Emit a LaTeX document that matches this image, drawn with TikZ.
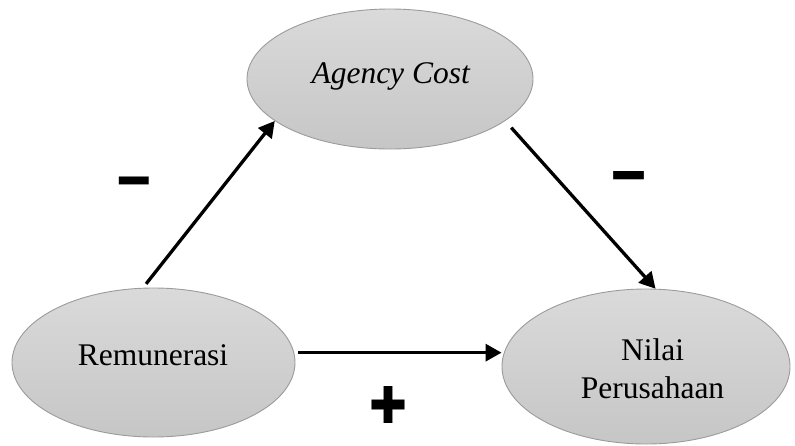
\documentclass[tikz,border=0pt]{standalone}
\usepackage{fontspec}
\setmainfont{Liberation Serif}
\newfontfamily\dejavu{DejaVu Sans}
\usetikzlibrary{shapes.geometric,arrows.meta}
\definecolor{ovaltop}{RGB}{218,218,218}
\definecolor{ovalbot}{RGB}{198,198,198}
\definecolor{ovalline}{RGB}{155,155,155}
\tikzset{
	oval/.style={ellipse, draw=ovalline, line width=0.9pt, top color=ovaltop, bottom color=ovalbot, inner sep=0pt},
	vartext/.style={font=\fontsize{31.5}{38}\selectfont, inner sep=0pt, align=center},
	arr/.style={line width=3.3pt, -{Triangle[length=16pt,width=17pt]}},
	sign/.style={inner sep=0pt}
}

\begin{document}
\begin{tikzpicture}[x=1pt,y=-1pt]
		%%%%% START %%%%%
		\useasboundingbox (0,0) rectangle (795,445);
		
		\node[oval, minimum width=286pt, minimum height=140pt] (agc) at (390,79) {};
		\node[oval, minimum width=283pt, minimum height=149pt] (rem) at (153.5,362.5) {};
		\node[oval, minimum width=288pt, minimum height=155pt] (nil) at (646,366.5) {};
		
		\node[vartext, anchor=base] (agc-t) at (391,83) {\textit{Agency Cost}};
		\node[vartext, anchor=base] (rem-t) at (153,365) {Remunerasi};
		\node[vartext] (nil-t) at (652.5,368.5) {Nilai\\Perusahaan};
		
		\draw[arr, shorten <=5pt] (rem.98) -- (agc.200);
		\draw[arr, shorten <=9pt] (agc.-20) -- (nil.83);
		\draw[arr, shorten <=4pt] (rem.4) -- (rem.4 -| nil.west);
		
		\node[sign] (minA) at (134,181.5) {\resizebox*{37pt}{9.5pt}{\dejavu ▬}};
		\node[sign] (minB) at (628.5,176) {\resizebox*{38pt}{10pt}{\dejavu ▬}};
		\node[sign] (plusC) at (388,405) {\resizebox*{38pt}{37pt}{\dejavu ✚}};
		
		%%%%% END %%%%%
	\end{tikzpicture}
\end{document}
